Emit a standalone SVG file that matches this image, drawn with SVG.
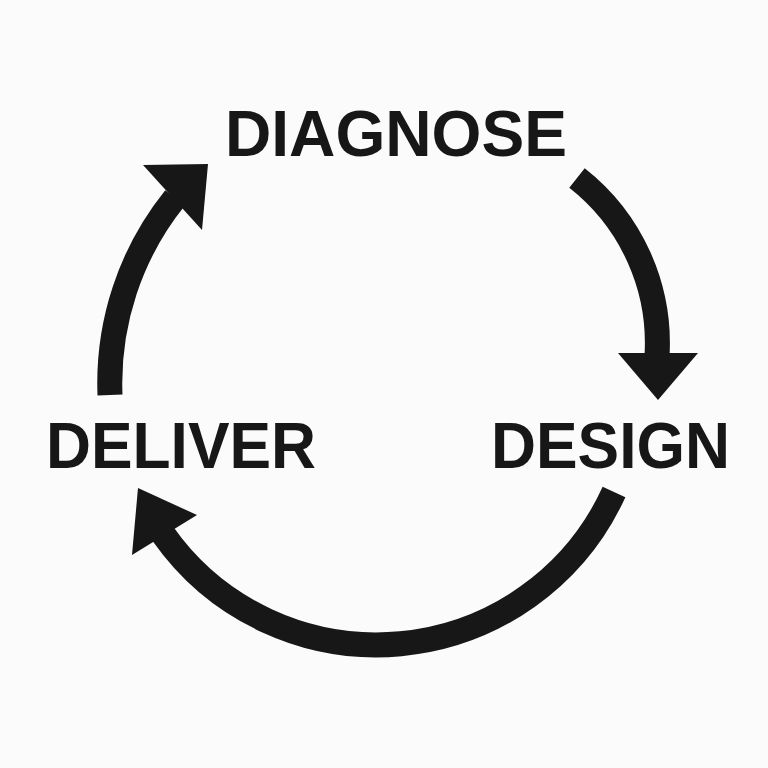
<svg xmlns="http://www.w3.org/2000/svg" width="768" height="768" viewBox="0 0 768 768">
  <style>
    .lbl { font-family: "Liberation Sans", Arial, sans-serif; font-weight: bold; font-size: 64px; fill: #171717; }
    .shaft { fill: none; stroke: #171717; stroke-width: 25; stroke-linecap: butt; }
    .head { fill: #171717; }
  </style>
  <rect width="768" height="768" fill="#fbfbfb"/>
  <g id="connectors">
    <g id="arrow-diagnose-design">
      <path class="shaft" d="M577,178 A210,210 0 0 1 657,356"/>
      <polygon class="head" points="618,353 698,353 658,400"/>
    </g>
    <g id="arrow-design-deliver">
      <path class="shaft" d="M614,492 A261,261 0 0 1 163,534"/>
      <polygon class="head" points="138,488 197,515 132,555"/>
    </g>
    <g id="arrow-deliver-diagnose">
      <path class="shaft" d="M110,395 A295,295 0 0 1 175,198"/>
      <polygon class="head" points="208,164 143,165 202,230"/>
    </g>
  </g>
  <g id="node-diagnose">
    <text class="lbl" x="225" y="156" textLength="342" lengthAdjust="spacingAndGlyphs">DIAGNOSE</text>
  </g>
  <g id="node-design">
    <text class="lbl" x="491" y="468" textLength="239" lengthAdjust="spacingAndGlyphs">DESIGN</text>
  </g>
  <g id="node-deliver">
    <text class="lbl" x="46" y="468" textLength="270" lengthAdjust="spacingAndGlyphs">DELIVER</text>
  </g>
</svg>
